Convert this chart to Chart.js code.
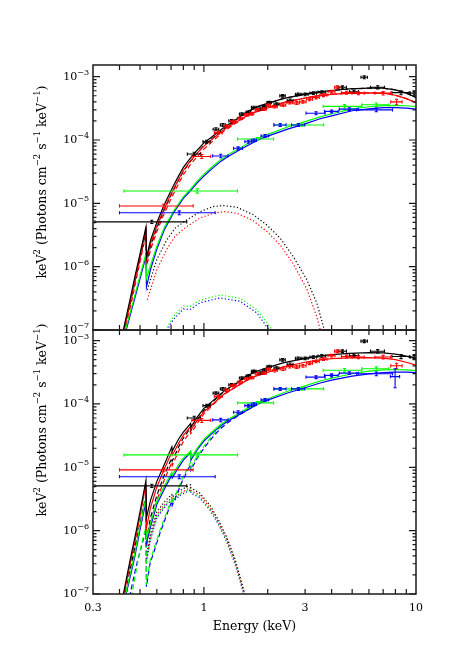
<!DOCTYPE html>
<html>
<head>
<meta charset="utf-8">
<script src="https://cdn.jsdelivr.net/npm/chart.js@4"></script>
<style>
  body { margin: 0; background: #fff; }
  #wrap { position: relative; width: 463px; height: 661px; }
  #wrap canvas { position: absolute; left: 0; top: 0; }
</style>
</head>
<body>
<div id="wrap">
  <canvas id="topChart" width="463" height="661"></canvas>
  <canvas id="botChart" width="463" height="661"></canvas>
</div>
<script>
// axis stuff
const xLabelVals = [0.3, 1, 3, 10];
const xLabelText = ['0.3', '1', '3', '10'];
const xTickVals = [0.4, 0.5, 0.6, 0.7, 0.8, 0.9, 1, 2, 3, 4, 5, 6, 7, 8, 9];
const yDecades = [-7, -6, -5, -4, -3];

// data points: [E, dE, flux, dflux]  (same spectra in both panels)
const blackPts = [
  [0.568, 0.262, 5.1e-6, 3e-7], [0.90, 0.065, 6.0e-5, 4e-6], [1.03, 0.04, 9.4e-5, 5e-6],
  [1.14, 0.035, 1.48e-4, 8e-6], [1.23, 0.035, 1.73e-4, 9e-6], [1.35, 0.04, 2.0e-4, 1e-5],
  [1.51, 0.04, 2.57e-4, 1.2e-5], [1.62, 0.04, 2.75e-4, 1.3e-5], [1.72, 0.045, 3.27e-4, 1.5e-5],
  [1.85, 0.045, 3.07e-4, 1.5e-5], [1.93, 0.045, 3.4e-4, 1.6e-5], [2.03, 0.05, 3.9e-4, 1.8e-5],
  [2.2, 0.06, 3.68e-4, 1.8e-5], [2.35, 0.07, 4.97e-4, 2.4e-5], [2.55, 0.08, 4.2e-4, 2.2e-5],
  [2.78, 0.08, 5.26e-4, 2.6e-5], [3.0, 0.1, 5.26e-4, 2.6e-5], [3.28, 0.12, 5.5e-4, 2.8e-5],
  [3.6, 0.15, 5.7e-4, 3e-5], [4.5, 0.2, 6.8e-4, 3.5e-5], [5.1, 0.25, 5.8e-4, 3.2e-5],
  [5.7, 0.2, 9.8e-4, 5e-5], [6.6, 0.5, 6.8e-4, 4e-5], [8.5, 0.8, 5.6e-4, 4e-5],
  [9.8, 0.4, 5.5e-4, 3.5e-5]
];
const redPts = [
  [0.645, 0.245, 9.1e-6, 6e-7], [0.977, 0.1, 5.5e-5, 4e-6], [1.17, 0.05, 1.31e-4, 7e-6],
  [1.28, 0.04, 1.66e-4, 8e-6], [1.38, 0.04, 1.95e-4, 1e-5], [1.48, 0.04, 2.2e-4, 1.1e-5],
  [1.59, 0.04, 2.5e-4, 1.2e-5], [1.68, 0.04, 2.6e-4, 1.3e-5], [1.79, 0.045, 2.99e-4, 1.4e-5],
  [1.92, 0.05, 3.07e-4, 1.5e-5], [2.01, 0.05, 3.56e-4, 1.7e-5], [2.16, 0.06, 3.37e-4, 1.7e-5],
  [2.36, 0.07, 3.56e-4, 1.8e-5], [2.54, 0.08, 3.9e-4, 2e-5], [2.74, 0.08, 3.84e-4, 2e-5],
  [2.93, 0.1, 4.0e-4, 2e-5], [3.15, 0.1, 4.4e-4, 2.2e-5], [3.38, 0.12, 4.7e-4, 2.4e-5],
  [3.66, 0.14, 5.1e-4, 2.6e-5], [4.0, 0.15, 5.8e-4, 3e-5], [4.25, 0.12, 6.8e-4, 3.5e-5],
  [4.7, 0.25, 5.6e-4, 3e-5], [5.35, 0.35, 5.5e-4, 3e-5], [7.0, 0.6, 5.5e-4, 3.5e-5],
  [8.1, 0.5, 4.0e-4, 4e-5]
];
const greenPts = [
  [0.93, 0.51, 1.57e-5, 1.2e-6], [1.785, 0.345, 1.04e-4, 5e-6], [2.9, 0.77, 1.73e-4, 8e-6],
  [4.6, 0.95, 3.4e-4, 2.2e-5], [6.5, 0.95, 3.6e-4, 2.5e-5]
];
const bluePts = [
  [0.765, 0.365, 7.1e-6, 5e-7], [1.2, 0.1, 5.6e-5, 3.5e-6], [1.45, 0.07, 7.4e-5, 4e-6],
  [1.62, 0.06, 9.4e-5, 5e-6], [1.72, 0.05, 9.9e-5, 5e-6], [1.94, 0.08, 1.16e-4, 6e-6],
  [2.29, 0.15, 1.73e-4, 9e-6], [2.79, 0.2, 1.73e-4, 9e-6], [3.38, 0.35, 2.65e-4, 1.4e-5],
  [4.0, 0.3, 2.83e-4, 1.5e-5], [4.85, 0.5, 3.07e-4, 1.6e-5], [6.5, 1.25, 2.99e-4, 2e-5]
];
const blueExtraBot = [[7.97, 0.4, 2.7e-4, 9e-5]];

// ---- top panel model curves [E, flux]
const topBlackModel = [[0.40,5.4e-8],[0.417,1e-7],[0.45,3.2e-7],[0.473,7e-7],[0.50,1.6e-6],[0.533,4.2e-6],[0.536,1.4e-6],[0.56,2.6e-6],[0.60,5.0e-6],[0.65,9.5e-6],[0.70,1.6e-5],[0.75,2.5e-5],[0.80,3.7e-5],[0.86,5.1e-5],[0.93,6.9e-5],[1.0,9.0e-5],[1.1,1.15e-4],[1.25,1.6e-4],[1.4,2.05e-4],[1.6,2.8e-4],[1.8,3.4e-4],[2.0,3.8e-4],[2.36,4.5e-4],[3.0,5.3e-4],[3.4,5.7e-4],[4.0,6.05e-4],[4.85,6.4e-4],[6.0,6.6e-4],[7.0,6.6e-4],[8.0,6.2e-4],[9.0,5.5e-4],[10.0,4.7e-4],[10.5,4.4e-4]];
const topRedModel = [[0.40,4.5e-8],[0.42,1e-7],[0.45,2.8e-7],[0.50,1.45e-6],[0.533,3.9e-6],[0.536,1.25e-6],[0.56,2.3e-6],[0.60,4.4e-6],[0.65,8.3e-6],[0.70,1.4e-5],[0.75,2.2e-5],[0.80,3.3e-5],[0.86,4.6e-5],[0.93,6.2e-5],[1.0,8.0e-5],[1.1,1.05e-4],[1.25,1.48e-4],[1.4,1.85e-4],[1.67,2.65e-4],[2.0,3.2e-4],[2.36,3.9e-4],[3.0,4.6e-4],[3.4,4.97e-4],[4.0,5.25e-4],[4.85,5.5e-4],[6.0,5.55e-4],[7.0,5.5e-4],[8.0,5.1e-4],[9.0,4.5e-4],[10.0,3.9e-4],[10.5,3.6e-4]];
const topGreenModel = [[0.41,5.5e-8],[0.43,1.1e-7],[0.47,3.3e-7],[0.50,7.2e-7],[0.533,1.6e-6],[0.536,6.5e-7],[0.56,1.05e-6],[0.60,2.1e-6],[0.65,4.1e-6],[0.717,7.4e-6],[0.80,1.27e-5],[0.86,1.65e-5],[0.93,2.25e-5],[1.0,2.9e-5],[1.1,3.85e-5],[1.2,4.9e-5],[1.3,5.85e-5],[1.5,7.7e-5],[1.8,1.07e-4],[2.0,1.23e-4],[2.5,1.62e-4],[3.0,1.95e-4],[3.5,2.3e-4],[4.0,2.6e-4],[5.0,3.1e-4],[6.0,3.35e-4],[7.0,3.5e-4],[8.0,3.52e-4],[9.0,3.48e-4],[10.0,3.38e-4],[10.5,3.3e-4]];
const topBlueModel = [[0.41,5e-8],[0.43,1e-7],[0.47,3e-7],[0.50,6.5e-7],[0.533,1.45e-6],[0.536,4.8e-7],[0.56,9e-7],[0.60,1.9e-6],[0.65,3.8e-6],[0.717,7e-6],[0.80,1.2e-5],[0.86,1.55e-5],[0.93,2.1e-5],[1.0,2.7e-5],[1.1,3.6e-5],[1.2,4.6e-5],[1.3,5.5e-5],[1.5,7.2e-5],[1.8,1.0e-4],[2.0,1.15e-4],[2.5,1.5e-4],[3.0,1.8e-4],[3.5,2.15e-4],[4.0,2.4e-4],[5.0,2.9e-4],[6.0,3.1e-4],[7.0,3.25e-4],[8.0,3.25e-4],[9.0,3.2e-4],[10.0,3.07e-4],[10.5,3.0e-4]];
const topBlackDash = [[0.40,4.6e-8],[0.42,1e-7],[0.45,2.7e-7],[0.50,1.35e-6],[0.533,3.6e-6],[0.536,1.15e-6],[0.56,2.1e-6],[0.60,4.1e-6],[0.65,7.9e-6],[0.70,1.35e-5],[0.75,2.15e-5],[0.80,3.2e-5],[0.86,4.5e-5],[0.93,6.2e-5],[1.0,8.2e-5],[1.1,1.07e-4],[1.25,1.52e-4],[1.4,1.98e-4],[1.6,2.75e-4],[1.8,3.36e-4],[2.0,3.78e-4],[2.36,4.5e-4],[3.0,5.3e-4],[3.4,5.7e-4],[4.0,6.05e-4],[4.85,6.4e-4],[6.0,6.6e-4],[7.0,6.6e-4],[8.0,6.2e-4],[9.0,5.5e-4],[10.0,4.7e-4],[10.5,4.4e-4]];
const topRedDash = [[0.40,3.8e-8],[0.425,1e-7],[0.45,2.3e-7],[0.50,1.2e-6],[0.533,3.2e-6],[0.536,1.0e-6],[0.56,1.85e-6],[0.60,3.6e-6],[0.65,6.9e-6],[0.70,1.18e-5],[0.75,1.88e-5],[0.80,2.85e-5],[0.86,4.0e-5],[0.93,5.5e-5],[1.0,7.2e-5],[1.1,9.6e-5],[1.25,1.4e-4],[1.4,1.8e-4],[1.67,2.62e-4],[2.0,3.2e-4],[2.36,3.9e-4],[3.0,4.6e-4],[3.4,4.97e-4],[4.0,5.25e-4],[4.85,5.5e-4],[6.0,5.55e-4],[7.0,5.5e-4],[8.0,5.1e-4],[9.0,4.5e-4],[10.0,3.9e-4],[10.5,3.6e-4]];
const topBlackDot = [[0.541,4.3e-7],[0.599,1.28e-6],[0.668,2.64e-6],[0.731,4.04e-6],[0.83,5.47e-6],[0.96,7.4e-6],[1.107,8.9e-6],[1.236,9.2e-6],[1.43,8.7e-6],[1.71,6.6e-6],[1.98,4.56e-6],[2.29,2.81e-6],[2.64,1.44e-6],[3.06,6.2e-7],[3.41,2.64e-7],[3.66,1.13e-7],[3.8,7e-8]];
const topRedDot = [[0.541,3.0e-7],[0.60,9e-7],[0.67,1.9e-6],[0.73,3.0e-6],[0.83,4.3e-6],[0.96,5.9e-6],[1.11,7.0e-6],[1.24,7.4e-6],[1.43,7.0e-6],[1.71,5.3e-6],[1.98,3.6e-6],[2.29,2.2e-6],[2.64,1.1e-6],[3.06,4.4e-7],[3.41,1.6e-7],[3.6,8e-8]];
const topGreenDot = [[0.63,7e-8],[0.66,1e-7],[0.717,1.62e-7],[0.80,2.4e-7],[0.86,2.35e-7],[0.96,2.97e-7],[1.19,3.57e-7],[1.48,3.17e-7],[1.78,2.07e-7],[2.05,1.13e-7],[2.15,8e-8]];
const topBlueDot = [[0.64,7e-8],[0.67,1e-7],[0.717,1.45e-7],[0.80,2.15e-7],[0.86,2.1e-7],[0.96,2.7e-7],[1.19,3.2e-7],[1.48,2.85e-7],[1.78,1.85e-7],[2.03,1.0e-7],[2.12,7e-8]];

// ---- bottom panel model curves
const botBlackModel = [[0.40,5e-8],[0.417,1e-7],[0.45,3.6e-7],[0.48,1.0e-6],[0.50,2.0e-6],[0.533,6.2e-6],[0.536,1.6e-6],[0.56,3.0e-6],[0.60,6.0e-6],[0.65,1.1e-5],[0.706,2.1e-5],[0.709,1.8e-5],[0.76,2.8e-5],[0.80,3.6e-5],[0.865,4.9e-5],[0.868,4.3e-5],[0.93,6.2e-5],[1.0,8.5e-5],[1.1,1.12e-4],[1.25,1.62e-4],[1.4,2.05e-4],[1.6,2.8e-4],[1.8,3.35e-4],[2.0,3.75e-4],[2.36,4.45e-4],[3.0,5.25e-4],[3.4,5.65e-4],[4.0,6.0e-4],[4.85,6.3e-4],[6.0,6.45e-4],[7.0,6.4e-4],[8.0,6.1e-4],[9.0,5.7e-4],[10.0,5.2e-4],[10.5,5.0e-4]];
const botRedModel = [[0.40,4.5e-8],[0.42,1e-7],[0.45,3.1e-7],[0.48,8.5e-7],[0.50,1.7e-6],[0.533,5.4e-6],[0.536,1.1e-6],[0.56,2.3e-6],[0.60,4.9e-6],[0.65,9.3e-6],[0.706,1.75e-5],[0.709,1.55e-5],[0.76,2.4e-5],[0.80,3.2e-5],[0.865,4.4e-5],[0.868,3.9e-5],[0.93,5.5e-5],[1.0,7.5e-5],[1.1,1.0e-4],[1.25,1.45e-4],[1.4,1.82e-4],[1.67,2.6e-4],[2.0,3.15e-4],[2.36,3.85e-4],[3.0,4.55e-4],[3.4,4.9e-4],[4.0,5.2e-4],[4.85,5.35e-4],[6.0,5.4e-4],[7.0,5.3e-4],[8.0,5.0e-4],[9.0,4.55e-4],[10.0,4.1e-4],[10.5,3.9e-4]];
const botGreenModel = [[0.41,5.5e-8],[0.43,1.1e-7],[0.47,4.0e-7],[0.50,1.2e-6],[0.533,3.3e-6],[0.536,7.5e-7],[0.56,1.3e-6],[0.60,2.9e-6],[0.65,5.0e-6],[0.706,8.3e-6],[0.709,7.5e-6],[0.76,1.1e-5],[0.80,1.4e-5],[0.865,1.8e-5],[0.868,1.4e-5],[0.93,2.0e-5],[1.0,2.75e-5],[1.1,3.7e-5],[1.2,4.75e-5],[1.3,5.7e-5],[1.5,7.5e-5],[1.8,1.05e-4],[2.0,1.21e-4],[2.5,1.6e-4],[3.0,1.93e-4],[3.5,2.28e-4],[4.0,2.55e-4],[5.0,3.0e-4],[6.0,3.3e-4],[7.0,3.45e-4],[8.0,3.5e-4],[9.0,3.45e-4],[10.0,3.35e-4],[10.5,3.3e-4]];
const botBlueModel = [[0.41,5e-8],[0.43,1e-7],[0.47,3.6e-7],[0.50,1.05e-6],[0.533,2.9e-6],[0.536,6.4e-7],[0.56,1.15e-6],[0.60,2.6e-6],[0.65,4.5e-6],[0.706,7.6e-6],[0.709,6.8e-6],[0.76,1.0e-5],[0.80,1.3e-5],[0.865,1.7e-5],[0.868,1.3e-5],[0.93,1.9e-5],[1.0,2.6e-5],[1.1,3.5e-5],[1.2,4.5e-5],[1.3,5.4e-5],[1.5,7.1e-5],[1.8,1.0e-4],[2.0,1.15e-4],[2.5,1.5e-4],[3.0,1.8e-4],[3.5,2.12e-4],[4.0,2.38e-4],[5.0,2.75e-4],[6.0,2.98e-4],[7.0,3.12e-4],[8.0,3.18e-4],[9.0,3.18e-4],[10.0,3.12e-4],[10.5,3.08e-4]];
const botBlackDash = [[0.41,4.5e-8],[0.425,1e-7],[0.46,3.6e-7],[0.50,1.3e-6],[0.533,3.6e-6],[0.536,7e-7],[0.56,1.6e-6],[0.60,3.6e-6],[0.65,7.5e-6],[0.706,1.4e-5],[0.709,1.25e-5],[0.76,2.1e-5],[0.80,2.9e-5],[0.865,4.2e-5],[0.868,3.8e-5],[0.93,5.6e-5],[1.0,7.9e-5],[1.1,1.08e-4],[1.25,1.6e-4],[1.4,2.04e-4],[1.6,2.8e-4],[1.8,3.35e-4]];
const botRedDash = [[0.415,4.5e-8],[0.43,1e-7],[0.46,3.1e-7],[0.50,1.1e-6],[0.533,3.1e-6],[0.536,5.5e-7],[0.56,1.3e-6],[0.60,3.0e-6],[0.65,6.3e-6],[0.706,1.2e-5],[0.709,1.07e-5],[0.76,1.8e-5],[0.80,2.55e-5],[0.865,3.7e-5],[0.868,3.4e-5],[0.93,4.9e-5],[1.0,7.0e-5],[1.1,9.6e-5],[1.25,1.43e-4],[1.4,1.81e-4],[1.67,2.6e-4]];
const botGreenDash = [[0.445,5e-8],[0.46,1.1e-7],[0.49,3.5e-7],[0.518,8.0e-7],[0.533,1.15e-6],[0.536,1.4e-7],[0.557,3.3e-7],[0.62,1.0e-6],[0.69,2.6e-6],[0.706,3.1e-6],[0.709,2.7e-6],[0.79,6.6e-6],[0.865,1.2e-5],[0.868,1.0e-5],[0.93,1.5e-5],[1.0,2.15e-5],[1.1,3.2e-5],[1.2,4.4e-5],[1.3,5.5e-5],[1.5,7.4e-5],[1.8,1.05e-4],[2.0,1.21e-4]];
const botBlueDash = [[0.44,5e-8],[0.449,1e-7],[0.48,2.8e-7],[0.518,7.2e-7],[0.533,1.0e-6],[0.536,1.3e-7],[0.557,3.0e-7],[0.62,9e-7],[0.69,2.4e-6],[0.706,2.9e-6],[0.709,2.5e-6],[0.79,6.0e-6],[0.865,1.1e-5],[0.868,9e-6],[0.93,1.4e-5],[1.0,2.0e-5],[1.1,3.0e-5],[1.2,4.1e-5],[1.3,5.1e-5],[1.5,7.0e-5],[1.8,1.0e-4],[2.0,1.15e-4]];
const botBlackDot = [[0.536,4e-7],[0.56,9e-7],[0.60,2.0e-6],[0.66,3.0e-6],[0.706,3.7e-6],[0.709,3.4e-6],[0.78,4.4e-6],[0.865,5.3e-6],[0.868,4.7e-6],[0.95,4.0e-6],[1.07,2.5e-6],[1.18,1.4e-6],[1.28,8e-7],[1.4,3.6e-7],[1.48,1.9e-7],[1.56,1e-7],[1.65,4.5e-8]];
const botRedDot = [[0.536,3.6e-7],[0.56,8e-7],[0.60,1.8e-6],[0.66,2.7e-6],[0.706,3.35e-6],[0.709,3.1e-6],[0.78,4.0e-6],[0.865,4.8e-6],[0.868,4.3e-6],[0.95,3.7e-6],[1.07,2.3e-6],[1.18,1.3e-6],[1.28,7.4e-7],[1.4,3.3e-7],[1.48,1.75e-7],[1.55,1e-7],[1.64,4.5e-8]];
const botGreenDot = [[0.536,3.4e-7],[0.56,7.6e-7],[0.60,1.7e-6],[0.66,2.6e-6],[0.706,3.2e-6],[0.709,2.95e-6],[0.78,3.85e-6],[0.865,4.6e-6],[0.868,4.1e-6],[0.95,3.5e-6],[1.07,2.2e-6],[1.18,1.25e-6],[1.28,7e-7],[1.4,3.2e-7],[1.48,1.7e-7],[1.55,1e-7],[1.64,4.5e-8]];
const botBlueDot = [[0.536,3.2e-7],[0.56,7.2e-7],[0.60,1.6e-6],[0.66,2.45e-6],[0.706,3.05e-6],[0.709,2.8e-6],[0.78,3.7e-6],[0.865,4.4e-6],[0.868,3.9e-6],[0.95,3.35e-6],[1.07,2.1e-6],[1.18,1.2e-6],[1.28,6.7e-7],[1.4,3.0e-7],[1.48,1.6e-7],[1.54,1e-7],[1.63,4.5e-8]];

const BLACK = '#000000', RED = '#ff0000', GREEN = '#00ff00', BLUE = '#0000ff';
const FONT = "'DejaVu Serif', 'Liberation Serif', serif";

function lineSet(pts, color, style) {
  return {
    data: pts.map(p => ({ x: p[0], y: p[1] })),
    showLine: true,
    pointRadius: 0,
    borderColor: color,
    borderWidth: 1.2,
    borderDash: style === 'dash' ? [5, 3] : style === 'dot' ? [1.2, 2.2] : [],
    fill: false,
    tension: 0
  };
}

function pointSet(pts, color) {
  return {
    data: pts.map(p => ({ x: p[0], y: p[2], xe: p[1], ye: p[3] })),
    showLine: false,
    pointRadius: 0,
    errorBars: true,
    errColor: color
  };
}

// draws the X-ray style error crosses through the chart scales
const errorBars = {
  id: 'errorBars',
  afterDatasetsDraw(chart) {
    const { ctx, chartArea: a, scales: { x, y } } = chart;
    ctx.save();
    ctx.beginPath();
    ctx.rect(a.left, a.top, a.right - a.left, a.bottom - a.top);
    ctx.clip();
    chart.data.datasets.forEach(ds => {
      if (!ds.errorBars) return;
      ctx.strokeStyle = ds.errColor;
      ctx.lineWidth = 1.1;
      ds.data.forEach(d => {
        const x0 = x.getPixelForValue(d.x - d.xe), x1 = x.getPixelForValue(d.x + d.xe);
        const xc = x.getPixelForValue(d.x), yc = y.getPixelForValue(d.y);
        const y0 = y.getPixelForValue(d.y - d.ye), y1 = y.getPixelForValue(d.y + d.ye);
        ctx.beginPath();
        ctx.moveTo(x0, yc); ctx.lineTo(x1, yc);
        ctx.moveTo(x0, yc - 1.6); ctx.lineTo(x0, yc + 1.6);
        ctx.moveTo(x1, yc - 1.6); ctx.lineTo(x1, yc + 1.6);
        ctx.moveTo(xc, y0); ctx.lineTo(xc, y1);
        ctx.moveTo(xc - 1.6, y0); ctx.lineTo(xc + 1.6, y0);
        ctx.moveTo(xc - 1.6, y1); ctx.lineTo(xc + 1.6, y1);
        ctx.stroke();
      });
    });
    ctx.restore();
  }
};

// text with superscripts: parts = [[text, isSup], ...]
function richWidth(ctx, parts, size, supSize) {
  let w = 0;
  parts.forEach(p => {
    ctx.font = (p[1] ? supSize : size) + 'px ' + FONT;
    w += ctx.measureText(p[0]).width;
  });
  return w;
}
function drawRich(ctx, parts, x, y, size, supSize) {
  let cx = x;
  parts.forEach(p => {
    ctx.font = (p[1] ? supSize : size) + 'px ' + FONT;
    ctx.fillText(p[0], cx, p[1] ? y - size * 0.42 : y);
    cx += ctx.measureText(p[0]).width;
  });
}

const yTitle = [['keV', false], ['2', true], [' (Photons cm', false], ['\u22122', true],
  [' s', false], ['\u22121', true], [' keV', false], ['\u22121', true], [')', false]];

// frame, inward ticks on all sides, labels
const frame = {
  id: 'frame',
  afterDraw(chart, args, opts) {
    const { ctx, chartArea: a, scales: { x, y } } = chart;
    ctx.save();
    ctx.strokeStyle = '#1a1a1a';
    ctx.lineWidth = 1.5;
    ctx.strokeRect(a.left, a.top, a.right - a.left, a.bottom - a.top);
    ctx.lineWidth = 1.2;
    ctx.beginPath();
    xTickVals.forEach(v => {
      const px = x.getPixelForValue(v);
      const len = (v === 1) ? 7 : 5;
      ctx.moveTo(px, a.bottom); ctx.lineTo(px, a.bottom - len);
      ctx.moveTo(px, a.top); ctx.lineTo(px, a.top + len);
    });
    yDecades.forEach(d => {
      for (let m = 1; m <= 9; m++) {
        const v = m * Math.pow(10, d);
        if (v < y.min || v > y.max) continue;
        const py = y.getPixelForValue(v);
        const len = m === 1 ? 7 : 3.5;
        ctx.moveTo(a.left, py); ctx.lineTo(a.left + len, py);
        ctx.moveTo(a.right, py); ctx.lineTo(a.right - len, py);
      }
    });
    ctx.stroke();

    ctx.fillStyle = '#000';
    ctx.textBaseline = 'middle';
    ctx.textAlign = 'left';
    yDecades.forEach(d => {
      const py = y.getPixelForValue(Math.pow(10, d));
      const parts = [['10', false], ['\u2212' + Math.abs(d), true]];
      const w = richWidth(ctx, parts, 11, 8);
      drawRich(ctx, parts, a.left - 4 - w, py + 0.5, 11, 8);
    });

    if (opts.xLabels) {
      ctx.textAlign = 'center';
      ctx.font = '11px ' + FONT;
      xLabelVals.forEach((v, i) => {
        ctx.fillText(xLabelText[i], x.getPixelForValue(v), a.bottom + 14);
      });
      ctx.font = '12.5px ' + FONT;
      ctx.fillText('Energy (keV)', (a.left + a.right) / 2, a.bottom + 33);
    }

    ctx.save();
    ctx.translate(43, opts.titleY);
    ctx.rotate(-Math.PI / 2);
    ctx.textAlign = 'left';
    const tw = richWidth(ctx, yTitle, 12.5, 8.5);
    drawRich(ctx, yTitle, -tw / 2, 0, 12.5, 8.5);
    ctx.restore();
    ctx.restore();
  }
};

function makeChart(id, datasets, yMax, pad, opts) {
  return new Chart(document.getElementById(id), {
    type: 'scatter',
    data: { datasets: datasets },
    options: {
      responsive: false,
      animation: false,
      events: [],
      layout: { padding: pad },
      plugins: { legend: { display: false }, tooltip: { enabled: false }, frame: opts },
      scales: {
        x: { type: 'logarithmic', min: 0.3, max: 10, display: false },
        y: { type: 'logarithmic', min: 1e-7, max: yMax, display: false }
      }
    },
    plugins: [errorBars, frame]
  });
}

const topSets = [
  lineSet(topBlackModel, BLACK), lineSet(topRedModel, RED),
  lineSet(topGreenModel, GREEN), lineSet(topBlueModel, BLUE),
  lineSet(topBlackDash, BLACK, 'dash'), lineSet(topRedDash, RED, 'dash'),
  lineSet(topBlackDot, BLACK, 'dot'), lineSet(topRedDot, RED, 'dot'),
  lineSet(topGreenDot, GREEN, 'dot'), lineSet(topBlueDot, BLUE, 'dot'),
  pointSet(blackPts, BLACK), pointSet(redPts, RED), pointSet(greenPts, GREEN), pointSet(bluePts, BLUE)
];

const botSets = [
  lineSet(botBlackModel, BLACK), lineSet(botRedModel, RED),
  lineSet(botGreenModel, GREEN), lineSet(botBlueModel, BLUE),
  lineSet(botBlackDash, BLACK, 'dash'), lineSet(botRedDash, RED, 'dash'),
  lineSet(botGreenDash, GREEN, 'dash'), lineSet(botBlueDash, BLUE, 'dash'),
  lineSet(botBlackDot, BLACK, 'dot'), lineSet(botRedDot, RED, 'dot'),
  lineSet(botGreenDot, GREEN, 'dot'), lineSet(botBlueDot, BLUE, 'dot'),
  pointSet(blackPts, BLACK), pointSet(redPts, RED), pointSet(greenPts, GREEN),
  pointSet(bluePts, BLUE), pointSet(blueExtraBot, BLUE)
];

makeChart('topChart', topSets, 1.53e-3, { left: 93, right: 47, top: 65, bottom: 331 }, { xLabels: false, titleY: 182 });
makeChart('botChart', botSets, 1.47e-3, { left: 93, right: 47, top: 330, bottom: 67 }, { xLabels: true, titleY: 420 });
</script>
</body>
</html>
